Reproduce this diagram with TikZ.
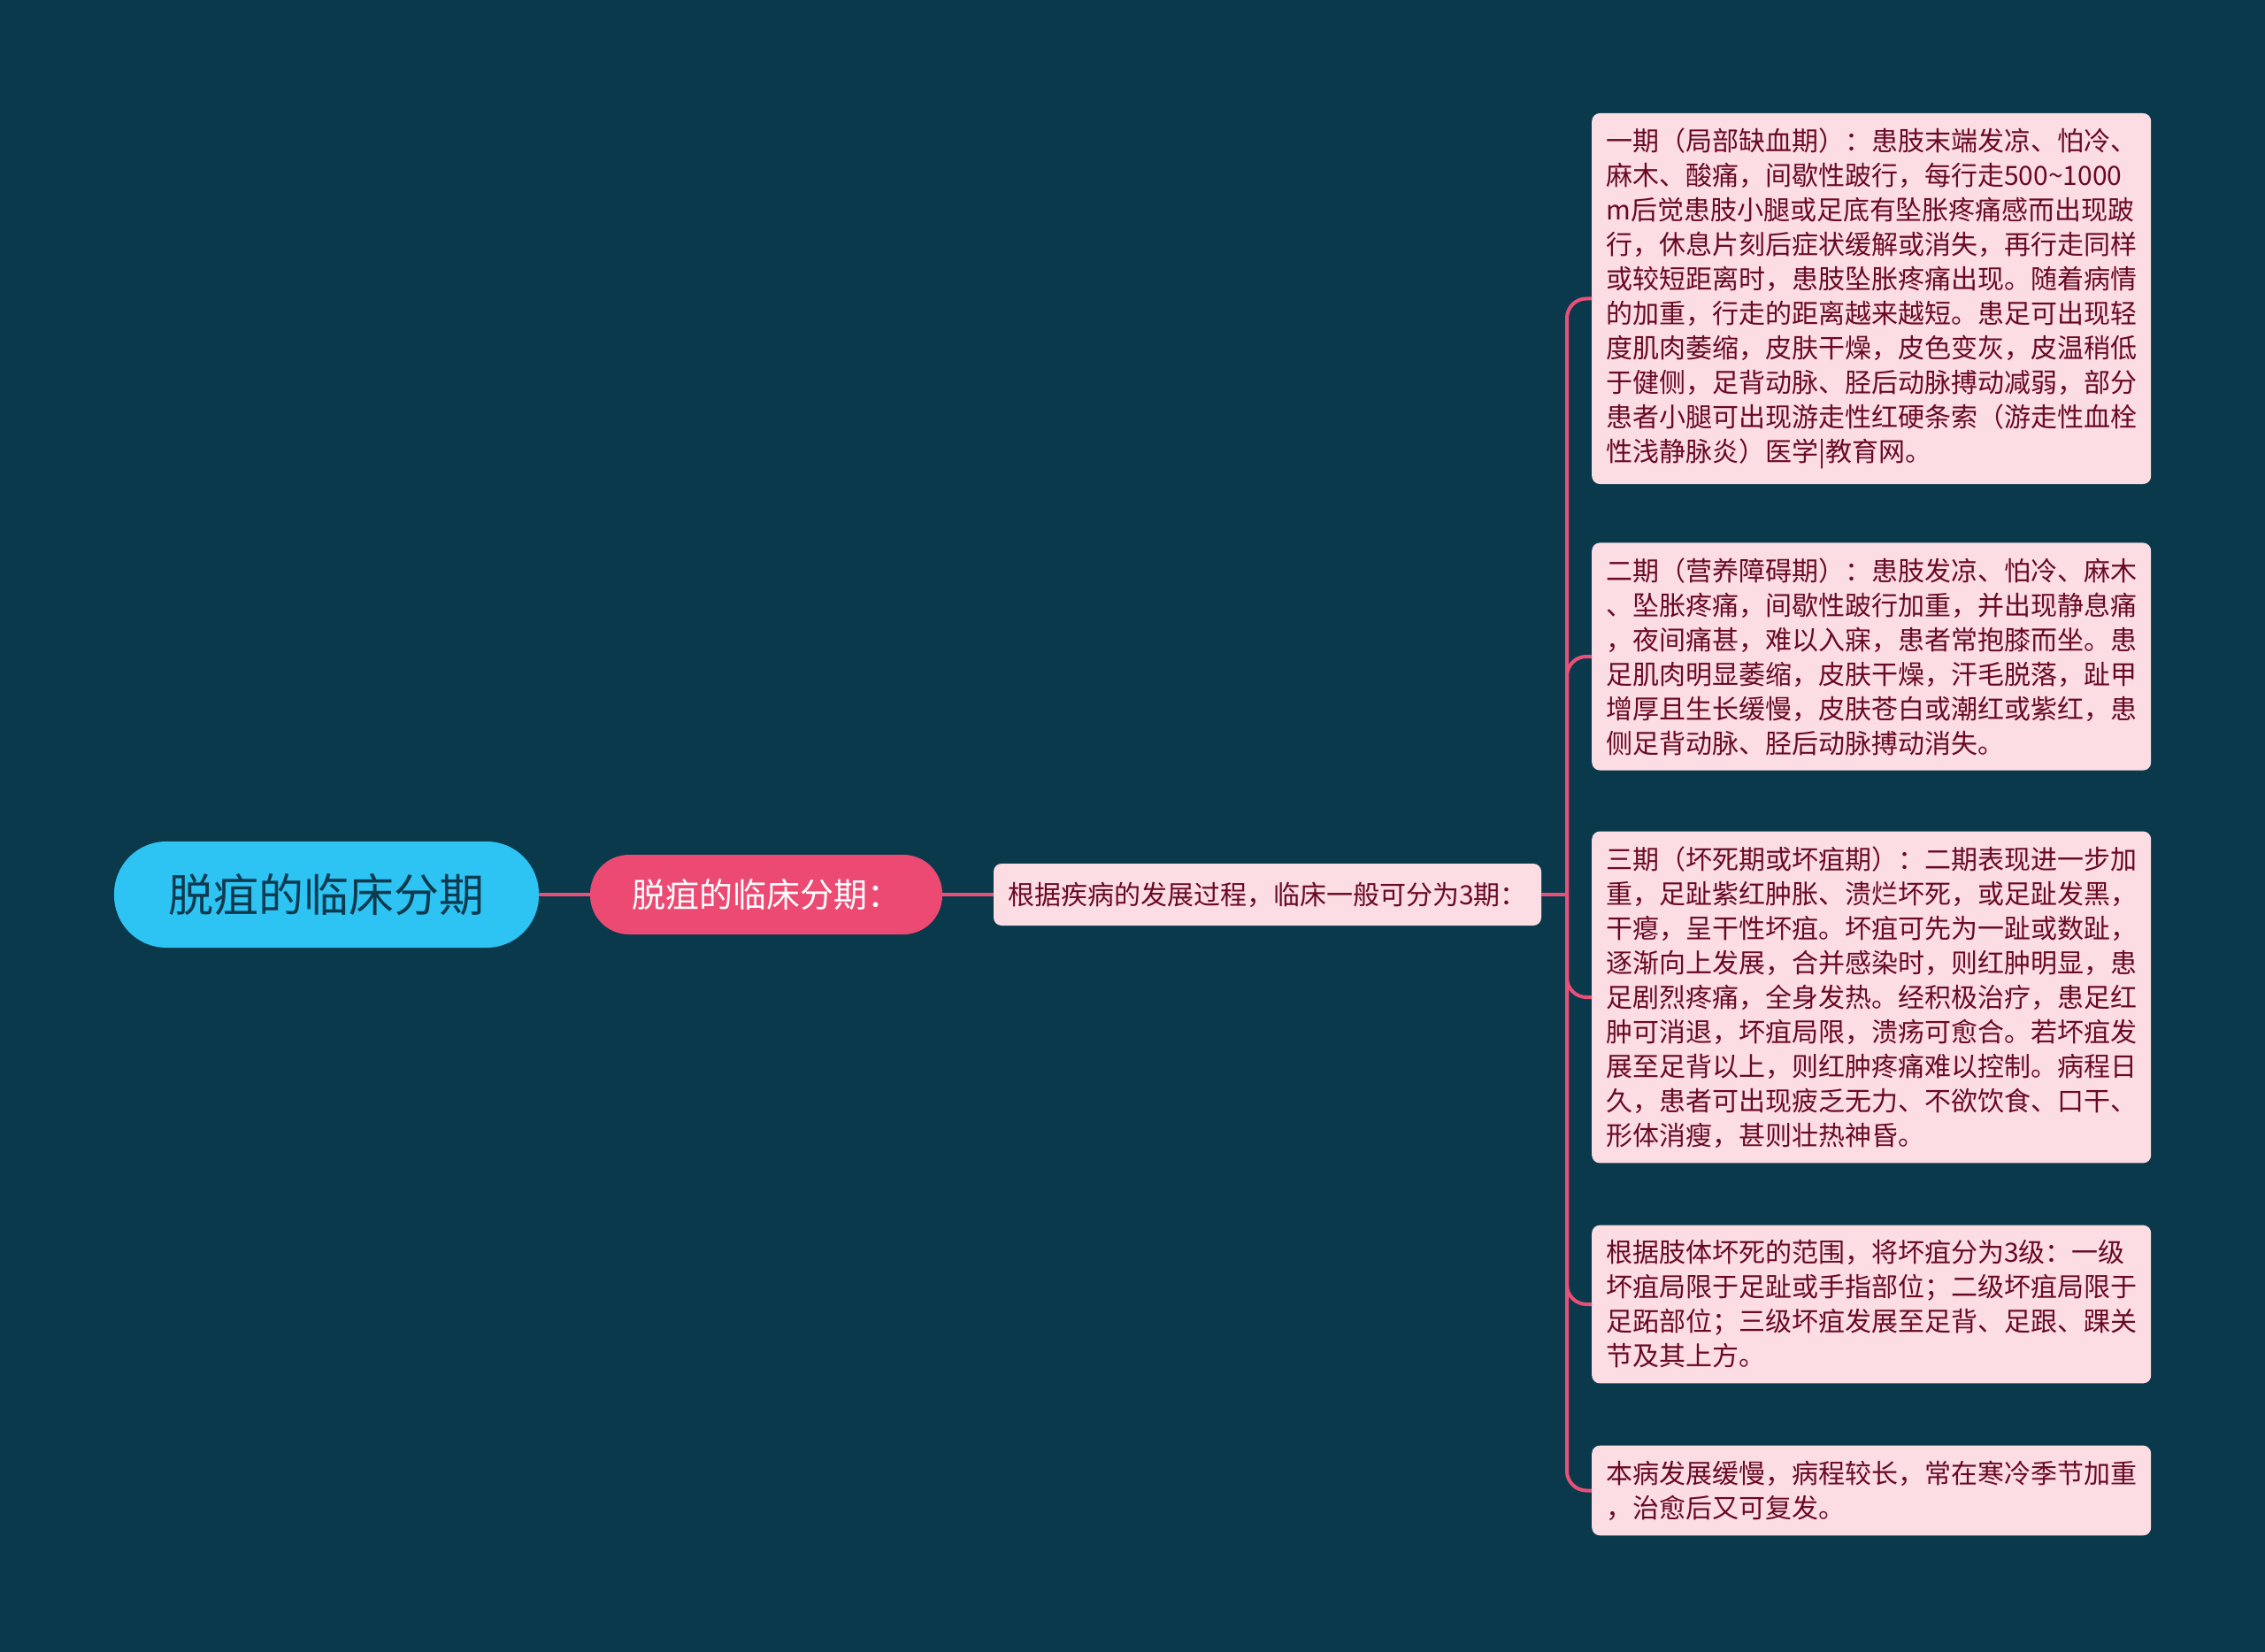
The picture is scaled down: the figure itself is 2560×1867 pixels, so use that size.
\documentclass[tikz,border=0pt]{standalone}
\usepackage{fontspec}
\setmainfont{Noto Sans CJK SC}
\definecolor{bgc}{HTML}{0A394C}
\definecolor{rootc}{HTML}{2DC3F2}
\definecolor{mainc}{HTML}{EC4A73}
\definecolor{leaff}{HTML}{FDDDE4}
\definecolor{leaft}{HTML}{690A22}
\definecolor{connc}{HTML}{E8507A}
\definecolor{roott}{HTML}{0D3A4F}
\tikzset{
  rootnode/.style={fill=rootc, text=roott, rounded corners=59pt, minimum width=480pt, minimum height=120pt, inner sep=0pt, font=\fontsize{51pt}{60pt}\selectfont},
  mainnode/.style={fill=mainc, text=white, rounded corners=44pt, minimum width=398pt, minimum height=90pt, inner sep=0pt, font=\fontsize{38pt}{46pt}\selectfont},
  subnode/.style={fill=leaff, text=leaft, rounded corners=9pt, minimum width=619pt, minimum height=70pt, inner sep=0pt, font=\fontsize{30pt}{36pt}\selectfont},
  leaf/.style={fill=leaff, text=leaft, rounded corners=9pt, align=left, text width=600pt, inner xsep=16pt, inner ysep=17pt, anchor=west, font=\fontsize{30pt}{39pt}\selectfont},
  conn/.style={draw=connc, line width=4pt},
}
\begin{document}
\begin{tikzpicture}[x=1pt,y=-1pt]
\fill[bgc] (0,0) rectangle (2560,1867);
\useasboundingbox (0,0) rectangle (2560,1867);

\node[rootnode] (root) at (369,1011) {脱疽的临床分期};
\node[mainnode] (main) at (866,1011) {脱疽的临床分期：};
\node[subnode] (sub) at (1432.5,1011) {根据疾病的发展过程，临床一般可分为3期：};
\coordinate (hub) at (1771,1011);

\node[leaf] (b1) at (1799,337.5) {一期（局部缺血期）：患肢末端发凉、怕冷、\\
麻木、酸痛，间歇性跛行，每行走500\textasciitilde1000\\
m后觉患肢小腿或足底有坠胀疼痛感而出现跛\\
行，休息片刻后症状缓解或消失，再行走同样\\
或较短距离时，患肢坠胀疼痛出现。随着病情\\
的加重，行走的距离越来越短。患足可出现轻\\
度肌肉萎缩，皮肤干燥，皮色变灰，皮温稍低\\
于健侧，足背动脉、胫后动脉搏动减弱，部分\\
患者小腿可出现游走性红硬条索（游走性血栓\\
性浅静脉炎）医学|教育网。};

\node[leaf] (b2) at (1799,742) {二期（营养障碍期）：患肢发凉、怕冷、麻木\\
、坠胀疼痛，间歇性跛行加重，并出现静息痛\\
，夜间痛甚，难以入寐，患者常抱膝而坐。患\\
足肌肉明显萎缩，皮肤干燥，汗毛脱落，趾甲\\
增厚且生长缓慢，皮肤苍白或潮红或紫红，患\\
侧足背动脉、胫后动脉搏动消失。};

\node[leaf] (b3) at (1799,1127) {三期（坏死期或坏疽期）：二期表现进一步加\\
重，足趾紫红肿胀、溃烂坏死，或足趾发黑，\\
干瘪，呈干性坏疽。坏疽可先为一趾或数趾，\\
逐渐向上发展，合并感染时，则红肿明显，患\\
足剧烈疼痛，全身发热。经积极治疗，患足红\\
肿可消退，坏疽局限，溃疡可愈合。若坏疽发\\
展至足背以上，则红肿疼痛难以控制。病程日\\
久，患者可出现疲乏无力、不欲饮食、口干、\\
形体消瘦，甚则壮热神昏。};

\node[leaf] (b4) at (1799,1474) {根据肢体坏死的范围，将坏疽分为3级：一级\\
坏疽局限于足趾或手指部位；二级坏疽局限于\\
足跖部位；三级坏疽发展至足背、足跟、踝关\\
节及其上方。};

\node[leaf] (b5) at (1799,1684.5) {本病发展缓慢，病程较长，常在寒冷季节加重\\
，治愈后又可复发。};

\draw[conn] (root.east) -- (main.west);
\draw[conn] (main.east) -- (sub.west);
\draw[conn] (sub.east) -- (hub);
\foreach \b in {b1,b2,b3,b4,b5}
  \draw[conn, rounded corners=22pt] (hub) |- (\b.west);
\end{tikzpicture}
\end{document}
